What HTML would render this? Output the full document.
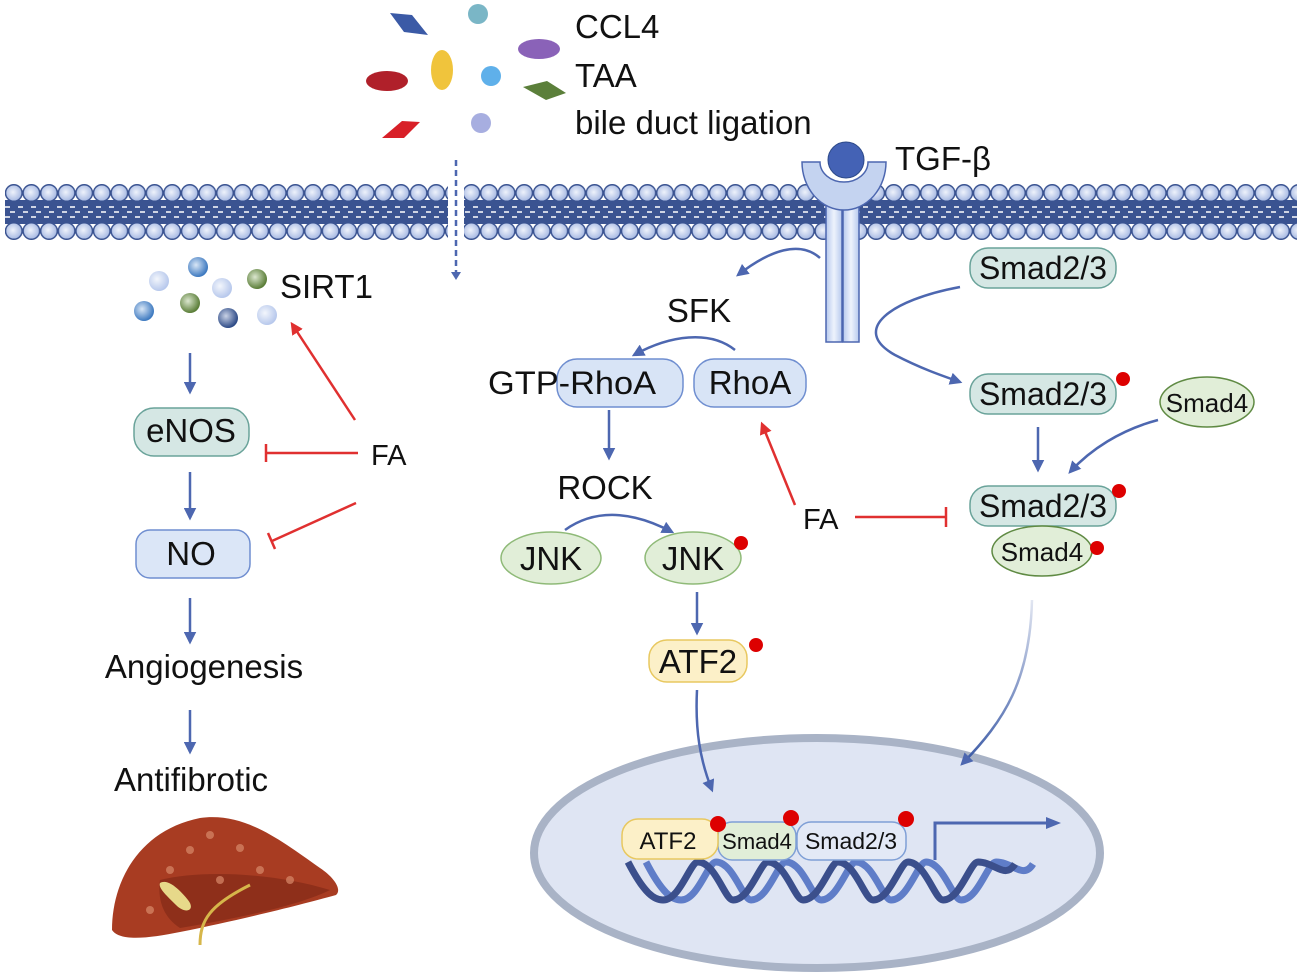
<!DOCTYPE html>
<html><head><meta charset="utf-8"><style>
html,body{margin:0;padding:0;background:#fff;}
svg{display:block;font-family:"Liberation Sans",Arial,sans-serif;}
</style></head><body>
<svg width="1301" height="980" viewBox="0 0 1301 980" xmlns="http://www.w3.org/2000/svg">
<defs>
<radialGradient id="head" cx="0.45" cy="0.45" r="0.6"><stop offset="0" stop-color="#eef2fb"/><stop offset="1" stop-color="#9fb3e0"/></radialGradient>
<pattern id="mem" x="5" y="180" width="17.6" height="62" patternUnits="userSpaceOnUse">
<circle cx="8.8" cy="13" r="8.3" fill="url(#head)" stroke="#3a5391" stroke-width="1.5"/>
<circle cx="8.8" cy="51" r="8.3" fill="url(#head)" stroke="#3a5391" stroke-width="1.5"/>
</pattern>
<radialGradient id="b1" cx="0.4" cy="0.4" r="0.6"><stop offset="0" stop-color="#d8e6f6"/><stop offset="1" stop-color="#3d79c0"/></radialGradient>
<radialGradient id="b2" cx="0.4" cy="0.4" r="0.6"><stop offset="0" stop-color="#f3f6fc"/><stop offset="1" stop-color="#b7c8ec"/></radialGradient>
<radialGradient id="b3" cx="0.4" cy="0.4" r="0.6"><stop offset="0" stop-color="#dbe7cf"/><stop offset="1" stop-color="#5a7d37"/></radialGradient>
<radialGradient id="b4" cx="0.4" cy="0.4" r="0.6"><stop offset="0" stop-color="#c9d2e6"/><stop offset="1" stop-color="#2d4a86"/></radialGradient>
<linearGradient id="fade" x1="0" y1="0" x2="0" y2="1"><stop offset="0" stop-color="#3b5aa6" stop-opacity="0.15"/><stop offset="1" stop-color="#3b5aa6"/></linearGradient>
<linearGradient id="stalk" x1="0" y1="0" x2="1" y2="0"><stop offset="0" stop-color="#b7c9ee"/><stop offset="0.5" stop-color="#eef3fc"/><stop offset="1" stop-color="#b7c9ee"/></linearGradient>
<marker id="ab" viewBox="0 0 10 10" refX="8" refY="5" markerWidth="5" markerHeight="5" orient="auto"><path d="M0,0 L10,5 L0,10 z" fill="#4d67b0"/></marker>
<marker id="ar" viewBox="0 0 10 10" refX="8" refY="5" markerWidth="5" markerHeight="5" orient="auto"><path d="M0,0 L10,5 L0,10 z" fill="#e03030"/></marker>
</defs>

<!-- membrane -->
<rect x="5" y="200" width="1292" height="24" fill="#3a5391"/>
<g stroke="#fff" stroke-width="1.5" stroke-dasharray="5 8">
<line x1="5" y1="207" x2="1297" y2="207"/><line x1="10" y1="212" x2="1297" y2="212"/><line x1="5" y1="217" x2="1297" y2="217"/></g>
<rect x="5" y="180" width="1292" height="62" fill="url(#mem)"/>
<rect x="448" y="178" width="16" height="70" fill="#fff"/>
<line x1="456" y1="160" x2="456" y2="274" stroke="#4d67b0" stroke-width="2.5" stroke-dasharray="6 4"/>
<path d="M451,272 L461,272 L456,280 z" fill="#4d67b0"/>

<!-- stimuli -->
<path d="M390,13 L412,15 L428,35 L404,32 z" fill="#3b5aa6"/>
<circle cx="478" cy="14" r="10" fill="#7ab6c6"/>
<ellipse cx="539" cy="49" rx="21" ry="10" fill="#8a62b8"/>
<ellipse cx="387" cy="81" rx="21" ry="10" fill="#b0202a"/>
<ellipse cx="442" cy="70" rx="11" ry="20" fill="#f0c43c"/>
<circle cx="491" cy="76" r="10" fill="#5fb0ea"/>
<path d="M523,87 L547,81 L566,93 L546,100 z" fill="#5b7f3a"/>
<path d="M382,138 L402,121 L420,122 L404,138 z" fill="#d82028"/>
<circle cx="481" cy="123" r="10" fill="#a7aee0"/>
<g font-size="33" fill="#111">
<text x="575" y="38">CCL4</text><text x="575" y="87">TAA</text><text x="575" y="134">bile duct ligation</text>
<text x="895" y="170">TGF-β</text></g>

<!-- receptor -->
<rect x="826" y="200" width="16" height="142" fill="url(#stalk)" stroke="#4d67b0" stroke-width="1.5"/>
<rect x="843" y="200" width="16" height="142" fill="url(#stalk)" stroke="#4d67b0" stroke-width="1.5"/>
<path d="M802,162 A42,48 0 0 0 886,162 L868,162 A24,20 0 0 1 820,162 z" fill="#c4d3f0" stroke="#4d67b0" stroke-width="1.5"/>
<circle cx="846" cy="160" r="18" fill="#4462b5" stroke="#2d4a8a" stroke-width="1"/>

<!-- SIRT1 balls -->
<circle cx="159" cy="281" r="10" fill="url(#b2)"/>
<circle cx="198" cy="267" r="10" fill="url(#b1)"/>
<circle cx="257" cy="279" r="10" fill="url(#b3)"/>
<circle cx="222" cy="288" r="10" fill="url(#b2)"/>
<circle cx="144" cy="311" r="10" fill="url(#b1)"/>
<circle cx="190" cy="303" r="10" fill="url(#b3)"/>
<circle cx="228" cy="318" r="10" fill="url(#b4)"/>
<circle cx="267" cy="315" r="10" fill="url(#b2)"/>
<text x="280" y="298" font-size="33" fill="#111">SIRT1</text>

<!-- left column -->
<g stroke="#4d67b0" stroke-width="2.5" marker-end="url(#ab)">
<line x1="190" y1="353" x2="190" y2="392"/><line x1="190" y1="472" x2="190" y2="518"/>
<line x1="190" y1="598" x2="190" y2="642"/><line x1="190" y1="710" x2="190" y2="752"/></g>
<rect x="134" y="408" width="115" height="48" rx="20" fill="#d5e7e4" stroke="#6aa39a" stroke-width="1.5"/>
<text x="191" y="442" font-size="33" text-anchor="middle" fill="#111">eNOS</text>
<rect x="136" y="530" width="114" height="48" rx="14" fill="#dbe6f7" stroke="#6f8ed0" stroke-width="1.5"/>
<text x="191" y="565" font-size="33" text-anchor="middle" fill="#111">NO</text>
<text x="204" y="678" font-size="33" text-anchor="middle" fill="#111">Angiogenesis</text>
<text x="191" y="791" font-size="33" text-anchor="middle" fill="#111">Antifibrotic</text>
<text x="371" y="465" font-size="29" fill="#111">FA</text>
<g stroke="#e03030" stroke-width="2.5">
<line x1="355" y1="420" x2="292" y2="324" marker-end="url(#ar)"/>
<line x1="358" y1="453" x2="266" y2="453"/><line x1="266" y1="444" x2="266" y2="462"/>
<line x1="356" y1="503" x2="272" y2="541"/><line x1="268" y1="533" x2="275" y2="549"/></g>

<!-- liver -->
<path d="M112,930 C112,880 140,830 200,818 C245,812 280,840 320,868 C335,878 342,890 336,895 C300,905 240,920 180,932 C150,938 120,942 112,930 z" fill="#a83c22"/>
<path d="M160,880 C200,870 270,872 330,890 C300,905 240,918 180,928 C160,915 158,895 160,880 z" fill="#8e2f1a"/>
<g fill="#d88a6a" opacity="0.7"><circle cx="190" cy="850" r="4"/><circle cx="210" cy="835" r="4"/><circle cx="240" cy="848" r="4"/><circle cx="170" cy="870" r="4"/><circle cx="260" cy="870" r="4"/><circle cx="220" cy="880" r="4"/><circle cx="290" cy="880" r="4"/><circle cx="150" cy="910" r="4"/></g>
<path d="M160,883 C168,878 180,890 188,900 C196,910 186,915 176,905 C166,895 158,888 160,883 z" fill="#e7d98a"/>
<path d="M200,945 C200,920 210,905 250,885" stroke="#d6b64a" stroke-width="3" fill="none"/>

<!-- middle pathway -->
<path d="M820,258 C800,240 770,250 738,275" stroke="#4d67b0" stroke-width="2.5" fill="none" marker-end="url(#ab)"/>
<text x="699" y="322" font-size="33" text-anchor="middle" fill="#111">SFK</text>
<path d="M735,350 C710,330 670,335 634,355" stroke="#4d67b0" stroke-width="2.5" fill="none" marker-end="url(#ab)"/>
<rect x="557" y="359" width="126" height="48" rx="20" fill="#d8e4f6" stroke="#6f8ed0" stroke-width="1.5"/>
<text x="488" y="394" font-size="32" fill="#111" textLength="168" lengthAdjust="spacingAndGlyphs">GTP-RhoA</text>
<rect x="694" y="359" width="112" height="48" rx="20" fill="#d8e4f6" stroke="#6f8ed0" stroke-width="1.5"/>
<text x="750" y="394" font-size="33" text-anchor="middle" fill="#111">RhoA</text>
<line x1="609" y1="410" x2="609" y2="458" stroke="#4d67b0" stroke-width="2.5" marker-end="url(#ab)"/>
<text x="605" y="499" font-size="33" text-anchor="middle" fill="#111">ROCK</text>
<path d="M565,530 C600,505 640,515 672,532" stroke="#4d67b0" stroke-width="2.5" fill="none" marker-end="url(#ab)"/>
<ellipse cx="551" cy="558" rx="50" ry="26" fill="#e1eed8" stroke="#8fba78" stroke-width="1.5"/>
<text x="551" y="570" font-size="33" text-anchor="middle" fill="#111">JNK</text>
<ellipse cx="693" cy="558" rx="48" ry="26" fill="#e1eed8" stroke="#8fba78" stroke-width="1.5"/>
<text x="693" y="570" font-size="33" text-anchor="middle" fill="#111">JNK</text>
<circle cx="741" cy="543" r="7" fill="#dd0000"/>
<line x1="697" y1="592" x2="697" y2="633" stroke="#4d67b0" stroke-width="2.5" marker-end="url(#ab)"/>
<rect x="649" y="640" width="98" height="42" rx="18" fill="#fcf0c8" stroke="#e8c860" stroke-width="1.5"/>
<text x="698" y="673" font-size="33" text-anchor="middle" fill="#111">ATF2</text>
<circle cx="756" cy="645" r="7" fill="#dd0000"/>
<text x="803" y="529" font-size="29" fill="#111">FA</text>
<g stroke="#e03030" stroke-width="2.5">
<line x1="795" y1="505" x2="762" y2="424" marker-end="url(#ar)"/>
<line x1="855" y1="517" x2="945" y2="517"/><line x1="946" y1="507" x2="946" y2="527"/></g>

<!-- Smad -->
<rect x="970" y="248" width="146" height="40" rx="18" fill="#d5e7e4" stroke="#6aa39a" stroke-width="1.5"/>
<text x="1043" y="279" font-size="32" text-anchor="middle" fill="#111">Smad2/3</text>
<path d="M960,287 C890,300 850,330 895,355 C920,368 940,375 960,382" stroke="#4d67b0" stroke-width="2.5" fill="none" marker-end="url(#ab)"/>
<rect x="970" y="374" width="146" height="40" rx="18" fill="#d5e7e4" stroke="#6aa39a" stroke-width="1.5"/>
<text x="1043" y="405" font-size="32" text-anchor="middle" fill="#111">Smad2/3</text>
<circle cx="1123" cy="379" r="7" fill="#dd0000"/>
<ellipse cx="1207" cy="402" rx="47" ry="25" fill="#e1eed8" stroke="#5f8a43" stroke-width="1.5"/>
<text x="1207" y="412" font-size="26" text-anchor="middle" fill="#111">Smad4</text>
<line x1="1038" y1="427" x2="1038" y2="470" stroke="#4d67b0" stroke-width="2.5" marker-end="url(#ab)"/>
<path d="M1158,420 C1120,430 1090,450 1070,472" stroke="#4d67b0" stroke-width="2.5" fill="none" marker-end="url(#ab)"/>
<rect x="970" y="486" width="146" height="40" rx="18" fill="#d5e7e4" stroke="#6aa39a" stroke-width="1.5"/>
<text x="1043" y="517" font-size="32" text-anchor="middle" fill="#111">Smad2/3</text>
<circle cx="1119" cy="491" r="7" fill="#dd0000"/>
<ellipse cx="1042" cy="551" rx="50" ry="25" fill="#e1eed8" stroke="#5f8a43" stroke-width="1.5"/>
<text x="1042" y="561" font-size="26" text-anchor="middle" fill="#111">Smad4</text>
<circle cx="1097" cy="548" r="7" fill="#dd0000"/>

<!-- nucleus -->
<ellipse cx="817" cy="853" rx="283" ry="115" fill="#dfe5f3" stroke="#a9b3c6" stroke-width="8"/>
<path d="M697,690 C695,730 700,760 712,790" stroke="#4d67b0" stroke-width="2.5" fill="none" marker-end="url(#ab)"/>
<path d="M1032,600 C1030,680 1005,720 962,764" stroke="url(#fade)" stroke-width="2.5" fill="none" marker-end="url(#ab)"/>
<!-- DNA -->
<path d="M628,862 C645,895 655,900 663,900 C680,900 690,862 698,862 C715,862 725,900 733,900 C750,900 760,862 768,862 C785,862 795,900 803,900 C820,900 830,862 838,862 C855,862 865,900 873,900 C890,900 900,862 908,862 C925,862 935,900 943,900 C960,900 970,862 978,862 C995,862 1005,880 1015,864" stroke="#5f7dc8" stroke-width="7" fill="none" transform="translate(18,0)"/>
<path d="M628,862 C645,895 655,900 663,900 C680,900 690,862 698,862 C715,862 725,900 733,900 C750,900 760,862 768,862 C785,862 795,900 803,900 C820,900 830,862 838,862 C855,862 865,900 873,900 C890,900 900,862 908,862 C925,862 935,900 943,900 C960,900 970,862 978,862 C995,862 1005,880 1015,864" stroke="#3b4f8c" stroke-width="7" fill="none"/>
<path d="M935,860 L935,823 L1050,823" stroke="#4d67b0" stroke-width="3" fill="none"/>
<path d="M1046,817 L1061,823 L1046,829 z" fill="#4d67b0"/>
<rect x="718" y="822" width="78" height="38" rx="14" fill="#e1eed8" stroke="#7f9fd6" stroke-width="1.5"/>
<text x="757" y="849" font-size="22" text-anchor="middle" fill="#111">Smad4</text>
<rect x="797" y="822" width="109" height="38" rx="14" fill="#e3e9f6" stroke="#7f9fd6" stroke-width="1.5"/>
<text x="851" y="849" font-size="23" text-anchor="middle" fill="#111">Smad2/3</text>
<rect x="622" y="819" width="96" height="40" rx="16" fill="#fcf0c8" stroke="#e8c860" stroke-width="1.5"/>
<text x="668" y="849" font-size="24" text-anchor="middle" fill="#111">ATF2</text>
<circle cx="718" cy="824" r="8" fill="#dd0000"/>
<circle cx="791" cy="818" r="8" fill="#dd0000"/>
<circle cx="906" cy="819" r="8" fill="#dd0000"/>
</svg>
</body></html>
